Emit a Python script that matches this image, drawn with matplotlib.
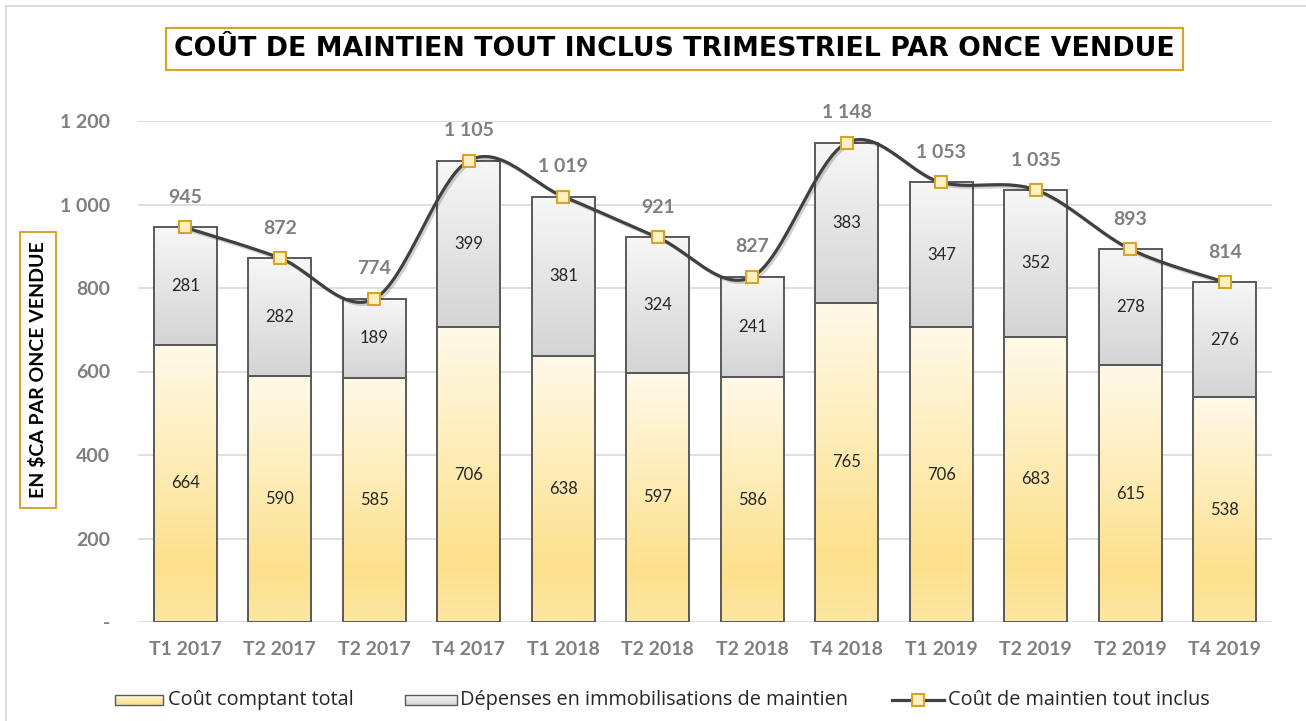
import numpy as np
import matplotlib
matplotlib.use("Agg")
import matplotlib.pyplot as plt
from matplotlib.patches import Rectangle
from matplotlib.colors import LinearSegmentedColormap
import matplotlib.patheffects as pe

# ---------------- data ----------------
categories = ["T1 2017", "T2 2017", "T2 2017", "T4 2017", "T1 2018", "T2 2018",
              "T2 2018", "T4 2018", "T1 2019", "T2 2019", "T2 2019", "T4 2019"]
cout_comptant = [664, 590, 585, 706, 638, 597, 586, 765, 706, 683, 615, 538]
depenses_maintien = [281, 282, 189, 399, 381, 324, 241, 383, 347, 352, 278, 276]
cout_total = [945, 872, 774, 1105, 1019, 921, 827, 1148, 1053, 1035, 893, 814]
total_labels = ["945", "872", "774", "1 105", "1 019", "921", "827", "1 148",
                "1 053", "1 035", "893", "814"]
yticks = [0, 200, 400, 600, 800, 1000, 1200]
ytick_labels = ["-", "200", "400", "600", "800", "1 000", "1 200"]

title = "COÛT DE MAINTIEN TOUT INCLUS TRIMESTRIEL PAR ONCE VENDUE"
ylabel = "EN $CA PAR ONCE VENDUE"
legend_labels = ["Coût comptant total", "Dépenses en immobilisations de maintien",
                 "Coût de maintien tout inclus"]

# ---------------- style ----------------
W, H = 1306, 721
fig = plt.figure(figsize=(W / 100, H / 100), dpi=100)
FONT = "Lato"
LEG_FONT = "Open Sans"
GRAY_TXT = "#7F7F7F"
DARK_TXT = "#262626"
GOLD = "#D4A52A"

yellow_cmap = LinearSegmentedColormap.from_list(
    "yel", [(0.0, "#FFF9E9"), (0.35, "#FEEFC0"), (0.8, "#FDE08B"), (1.0, "#FDE7A4")])
gray_cmap = LinearSegmentedColormap.from_list(
    "gry", [(0.0, "#F7F7F7"), (1.0, "#D4D4D4")])

ax = fig.add_axes([138 / W, 1 - 622 / H, (1272 - 138) / W, (622 - 121) / H])
x = np.arange(len(categories))
ax.set_xlim(-0.5, len(categories) - 0.5)
ax.set_ylim(0, 1200)

bw = 0.665
grad = np.linspace(0, 1, 256).reshape(-1, 1)


def grad_bars(xs, bottoms, heights, cmap):
    bars = ax.bar(xs, heights, bw, bottom=bottoms, facecolor="none",
                  edgecolor="#595959", linewidth=1.4, zorder=4)
    for b in bars:
        x0, y0 = b.get_x(), b.get_y()
        w, h = b.get_width(), b.get_height()
        ax.imshow(grad, extent=(x0, x0 + w, y0, y0 + h), origin="upper",
                  cmap=cmap, aspect="auto", zorder=3, interpolation="bicubic")
    return bars


grad_bars(x, [0] * len(x), cout_comptant, yellow_cmap)
grad_bars(x, cout_comptant, depenses_maintien, gray_cmap)
ax.set_xlim(-0.5, len(categories) - 0.5)
ax.set_ylim(0, 1200)

# segment labels
for i in range(len(x)):
    ax.text(x[i], cout_comptant[i] / 2, str(cout_comptant[i]), ha="center",
            va="center", fontsize=12, color=DARK_TXT, family=FONT, zorder=6)
    ax.text(x[i], cout_comptant[i] + depenses_maintien[i] / 2,
            str(depenses_maintien[i]), ha="center", va="center", fontsize=12,
            color=DARK_TXT, family=FONT, zorder=6)

# smoothed line (Bezier through points, Excel-like smoothing)
px = x.astype(float)
py = np.array(cout_total, dtype=float)
n = len(px)
curve_x, curve_y = [], []
t = np.linspace(0, 1, 30)
for i in range(n - 1):
    p0 = np.array([px[i], py[i]])
    p3 = np.array([px[i + 1], py[i + 1]])
    prev = np.array([px[i - 1], py[i - 1]]) if i > 0 else p0
    nxt = np.array([px[i + 2], py[i + 2]]) if i + 2 < n else p3
    p1 = p0 + (p3 - prev) / 6.0
    p2 = p3 - (nxt - p0) / 6.0
    seg = ((1 - t) ** 3)[:, None] * p0 + (3 * (1 - t) ** 2 * t)[:, None] * p1 \
        + (3 * (1 - t) * t ** 2)[:, None] * p2 + (t ** 3)[:, None] * p3
    curve_x.extend(seg[:, 0])
    curve_y.extend(seg[:, 1])
ax.plot(curve_x, curve_y, color="#404040", linewidth=2.3, zorder=7,
        solid_capstyle="round",
        path_effects=[pe.SimpleLineShadow(offset=(1.5, -1.5), shadow_color="#000000", alpha=0.18),
                      pe.Normal()])
ax.plot(px, py, linestyle="none", marker="s", markersize=8.5,
        markerfacecolor="#FFF0C2", markeredgecolor=GOLD, markeredgewidth=1.5, zorder=8)

for i in range(n):
    ax.annotate(total_labels[i], (px[i], py[i]), xytext=(0, 21.5),
                textcoords="offset points", ha="center", va="center",
                fontsize=14, fontweight="bold", color=GRAY_TXT, family=FONT,
                annotation_clip=False)

# axes styling
ax.set_yticks(yticks)
ax.set_yticklabels(ytick_labels)
ax.set_xticks(x)
ax.set_xticklabels(categories)
ax.grid(axis="y", color="#D9D9D9", linewidth=1.2, zorder=0)
ax.set_axisbelow(True)
for s in ax.spines.values():
    s.set_visible(False)
ax.tick_params(length=0)
ax.tick_params(axis="y", pad=20)
ax.tick_params(axis="x", pad=14)
for lab in ax.get_yticklabels() + ax.get_xticklabels():
    lab.set_family(FONT)
    lab.set_fontweight("bold")
    lab.set_fontsize(14)
    lab.set_color(GRAY_TXT)

# ---------------- overlay (title, y label box, legend, border) ----------------
ov = fig.add_axes([0, 0, 1, 1], zorder=10)
ov.set_xlim(0, W)
ov.set_ylim(H, 0)
ov.axis("off")
ov.patch.set_alpha(0)

ov.plot([6, 6, W], [H, 6, 6], color="#D9D9D9", linewidth=1.4)

ov.add_patch(Rectangle((166, 28), 1183 - 166, 42, facecolor="white", edgecolor=GOLD, linewidth=1.6))
ov.text((166 + 1183) / 2, 49.5, title, ha="center", va="center", fontsize=19.3,
        fontweight="bold", family="DejaVu Sans", color="black")

ov.add_patch(Rectangle((20, 232), 36, 276, facecolor="white", edgecolor=GOLD, linewidth=1.4))
ov.text(38, 370, ylabel, rotation=90, ha="center", va="center", fontsize=14,
        fontweight="bold", family=FONT, color="black")

# legend
ly = 700
LFS = 14.3
ov.imshow(grad, extent=(115, 163, ly + 5, ly - 5), origin="upper", cmap=yellow_cmap,
          aspect="auto", zorder=1)
ov.add_patch(Rectangle((115, ly - 5), 48, 10, fill=False, edgecolor="#595959", linewidth=1.0, zorder=2))
ov.text(168, ly, legend_labels[0], ha="left", va="center", fontsize=LFS,
        family=LEG_FONT, color=DARK_TXT)
ov.imshow(grad, extent=(405, 457, ly + 5, ly - 5), origin="upper", cmap=gray_cmap,
          aspect="auto", zorder=1)
ov.add_patch(Rectangle((405, ly - 5), 52, 10, fill=False, edgecolor="#595959", linewidth=1.0, zorder=2))
ov.text(460, ly, legend_labels[1], ha="left", va="center", fontsize=LFS,
        family=LEG_FONT, color=DARK_TXT)
ov.plot([892, 944], [ly, ly], color="#404040", linewidth=2.3, zorder=2)
ov.plot([918], [ly], marker="s", markersize=8.5, markerfacecolor="#FFF0C2",
        markeredgecolor=GOLD, markeredgewidth=1.5, zorder=3)
ov.text(948, ly, legend_labels[2], ha="left", va="center", fontsize=LFS,
        family=LEG_FONT, color=DARK_TXT)
ov.set_xlim(0, W)
ov.set_ylim(H, 0)

fig.savefig("out.png", dpi=100)
